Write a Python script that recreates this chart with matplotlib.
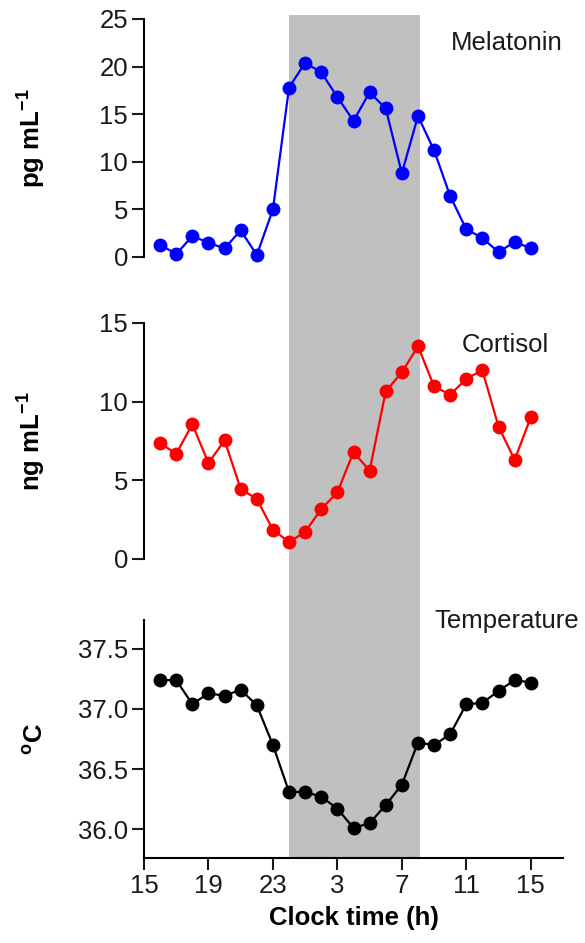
import numpy as np
import matplotlib
matplotlib.use('Agg')
import matplotlib.pyplot as plt

plt.rcParams['font.family'] = ['Liberation Sans', 'DejaVu Sans']
plt.rcParams['mathtext.fontset'] = 'custom'
plt.rcParams['mathtext.rm'] = 'Liberation Sans'
plt.rcParams['mathtext.bf'] = 'Liberation Sans:bold'

# hours since midnight of day 1 (16 = 4 pm ... 39 = 3 pm next day)
hours = np.arange(16, 40)
melatonin = [1.3, 0.3, 2.2, 1.5, 0.9, 2.8, 0.2, 5.0, 17.8, 20.4, 19.4, 16.8,
             14.3, 17.3, 15.6, 8.8, 14.8, 11.2, 6.4, 2.9, 2.0, 0.5, 1.6, 0.9]
cortisol = [7.37, 6.69, 8.56, 6.1, 7.54, 4.45, 3.81, 1.86, 1.08, 1.72, 3.18, 4.23,
            6.8, 5.61, 10.66, 11.86, 13.52, 10.97, 10.44, 11.46, 11.99, 8.41, 6.31, 9.0]
temperature = [37.24, 37.24, 37.04, 37.13, 37.11, 37.16, 37.03, 36.70, 36.31, 36.31,
               36.27, 36.17, 36.01, 36.05, 36.20, 36.37, 36.72, 36.70, 36.79, 37.04,
               37.05, 37.15, 37.24, 37.22]
night = (24, 32.1)
xticks = [15, 19, 23, 27, 31, 35, 39]
xticklabels = ['15', '19', '23', '3', '7', '11', '15']

W, H = 585, 943
fig = plt.figure(figsize=(W / 100, H / 100), dpi=100)

left = 144 / W
width = (563 - 144) / W


def box(top, bottom):
    return [left, 1 - bottom / H, width, (bottom - top) / H]


# background axis for the dark-period shading across all panels
bg = fig.add_axes(box(15, 858))
bg.set_xlim(15, 41)
bg.axvspan(night[0], night[1], color='#c0c0c0', lw=0)
bg.axis('off')

fs = 18.5
panels = [
    (box(19, 257), melatonin, 'blue', (0, 25), [0, 5, 10, 15, 20, 25],
     r'pg mL$^{\mathbf{-1}}$', 'Melatonin', (37.5, 22.5)),
    (box(323, 559), cortisol, 'red', (0, 15), [0, 5, 10, 15],
     r'ng mL$^{\mathbf{-1}}$', 'Cortisol', (37.4, 13.6)),
    (box(620, 858), temperature, 'black', (35.76, 37.74), [36.0, 36.5, 37.0, 37.5],
     r'$^{\mathbf{o}}$C', 'Temperature', (37.5, 37.73)),
]

for i, (rect, vals, col, ylim, yt, ylab, name, pos) in enumerate(panels):
    ax = fig.add_axes(rect)
    ax.patch.set_alpha(0)
    ax.plot(hours, vals, '-o', color=col, lw=1.6, ms=9, clip_on=False)
    ax.set_xlim(15, 41)
    ax.set_ylim(*ylim)
    ax.set_yticks(yt)
    if i == 2:
        ax.set_yticklabels(['%.1f' % v for v in yt])
    ax.spines['top'].set_visible(False)
    ax.spines['right'].set_visible(False)
    for s in ax.spines.values():
        s.set_linewidth(1.5)
    ax.tick_params(axis='both', length=8.5, width=1.5, labelsize=fs, pad=3,
                   colors='#1a1a1a')
    ax.set_ylabel(ylab, fontsize=fs, fontweight='bold', va='center')
    ax.yaxis.set_label_coords(-0.27 if i < 2 else -0.258, 0.5)
    ax.text(pos[0], pos[1], name, fontsize=fs, ha='center', va='center',
            color='#1a1a1a')
    if i < 2:
        ax.spines['bottom'].set_visible(False)
        ax.set_xticks([])
    else:
        ax.set_xticks(xticks)
        ax.set_xticklabels(xticklabels)
        ax.set_xlabel('Clock time (h)', fontsize=fs, fontweight='bold', labelpad=6)

fig.savefig('out.png', dpi=100)
